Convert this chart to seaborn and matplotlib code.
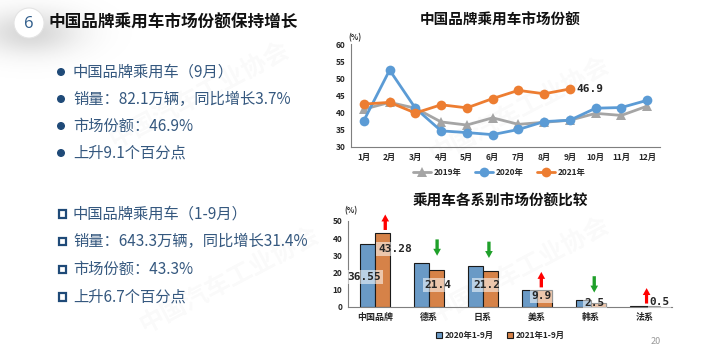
import numpy as np
import pandas as pd
import matplotlib
matplotlib.use("Agg")
import matplotlib.pyplot as plt
from matplotlib.patches import Circle, Rectangle
import seaborn as sns

# line chart data: China-brand passenger car market share (%)
months = ["1月", "2月", "3月", "4月", "5月", "6月", "7月", "8月", "9月", "10月", "11月", "12月"]
share_2019 = [41.0, 43.0, 41.3, 37.3, 36.4, 38.5, 36.6, 37.2, 37.8, 39.8, 39.2, 41.9]
share_2020 = [37.7, 52.4, 41.3, 34.7, 34.2, 33.6, 35.1, 37.4, 37.8, 41.3, 41.5, 43.6]
share_2021 = [42.5, 43.0, 39.9, 42.3, 41.4, 44.1, 46.5, 45.5, 46.9]

# bar chart data: share by origin (%)
origins = ["中国品牌", "德系", "日系", "美系", "韩系", "法系"]
jan_sep_2020 = [36.55, 25.3, 24.0, 9.6, 3.9, 0.4]
jan_sep_2021 = [43.28, 21.4, 21.2, 9.9, 2.5, 0.5]
trend_up = [True, False, False, True, False, True]

bullets_sep = ["中国品牌乘用车（9月）", "销量：82.1万辆，同比增长3.7%", "市场份额：46.9%", "上升9.1个百分点"]
bullets_ytd = ["中国品牌乘用车（1-9月）", "销量：643.3万辆，同比增长31.4%", "市场份额：43.3%", "上升6.7个百分点"]

sns.set_style("white")
plt.rcParams["font.family"] = ["Noto Sans CJK SC", "DejaVu Sans"]

BLUE = "#5B9BD5"
ORANGE = "#ED7D31"
GRAY = "#A5A5A5"
TXT = "#35587F"
NAVY = "#1F4A78"

fig = plt.figure(figsize=(7.21, 3.61), dpi=100)

# background layer in pixel coordinates
bg = fig.add_axes([0, 0, 1, 1], zorder=0)
bg.set_xlim(0, 721)
bg.set_ylim(361, 0)
bg.axis("off")

# soft shadow behind the section number
yy, xx = np.mgrid[0:80, 0:150]
alpha = 0.34 * np.exp(-(((xx - 30) / 48.0) ** 2 + ((yy - 32) / 22.0) ** 2))
shadow = np.zeros((80, 150, 4))
shadow[..., :3] = 0.55
shadow[..., 3] = alpha
bg.imshow(shadow, extent=(0, 150, 80, 0), interpolation="bilinear", aspect="auto")
bg.add_patch(Circle((29, 23), 15, facecolor="white", edgecolor="#e4e4e4", lw=0.8))
bg.text(29, 23.5, "6", ha="center", va="center", fontsize=12, color="#2E5C8A", family="Open Sans")
bg.text(49, 23, "中国品牌乘用车市场份额保持增长", ha="left", va="center",
        fontsize=12, fontweight="bold", color="#111111")

# faint watermarks
for (wx, wy) in [(200, 95), (520, 110), (230, 280), (520, 270)]:
    bg.text(wx, wy, "中国汽车工业协会", fontsize=18, color="#000000", alpha=0.025,
            rotation=28, ha="center", va="center", fontweight="bold")

# bullet block 1
for i, t in enumerate(bullets_sep):
    y = 72 + i * 27
    bg.add_patch(Circle((61, y), 3.3, color=NAVY))
    bg.text(73, y, t, ha="left", va="center", fontsize=11, color=TXT)

# bullet block 2
for i, t in enumerate(bullets_ytd):
    y = 214 + i * 27.7
    bg.add_patch(Rectangle((58.5, y - 3.8), 7.5, 7.5, facecolor="white", edgecolor=NAVY, lw=1.6))
    bg.text(73, y, t, ha="left", va="center", fontsize=11, color=TXT)

bg.text(500, 20, "中国品牌乘用车市场份额", ha="center", va="center", fontsize=10.5, fontweight="bold", color="#111111")
bg.text(500, 201, "乘用车各系别市场份额比较", ha="center", va="center", fontsize=10.5, fontweight="bold", color="#111111")
bg.text(355, 38, "(%)", ha="center", va="center", fontsize=5.5, fontweight="bold")
bg.text(351, 211, "(%)", ha="center", va="center", fontsize=5.5, fontweight="bold")
bg.text(656, 342, "20", ha="center", va="center", fontsize=6.5, color="#999999")

# ---- line chart ----
rows = []
for yr, vals in [("2019年", share_2019), ("2020年", share_2020), ("2021年", share_2021)]:
    for m, v in zip(months, vals):
        rows.append({"month": m, "year": yr, "share": v})
line_df = pd.DataFrame(rows)

ax1 = fig.add_axes([351 / 721, 1 - 147 / 361, 309 / 721, 103 / 361], zorder=2)
ax1.patch.set_alpha(0)
sns.lineplot(data=line_df, x="month", y="share", hue="year", style="year",
             palette={"2019年": GRAY, "2020年": BLUE, "2021年": ORANGE},
             markers={"2019年": "^", "2020年": "o", "2021年": "o"},
             dashes=False, markersize=7, markeredgewidth=0, linewidth=2, sort=False, ax=ax1)
ax1.set_xlim(-0.5, 11.5)
ax1.set_ylim(30, 60)
ax1.set_yticks(range(30, 61, 5))
ax1.set_xlabel("")
ax1.set_ylabel("")
ax1.tick_params(axis="both", length=0, labelsize=6, pad=4)
for lab in ax1.get_xticklabels() + ax1.get_yticklabels():
    lab.set_fontweight("bold")
sns.despine(ax=ax1)
for s in ["left", "bottom"]:
    ax1.spines[s].set_color("#7f7f7f")
    ax1.spines[s].set_linewidth(0.8)
ax1.text(8.25, share_2021[-1], f"{share_2021[-1]}", ha="left", va="center",
         fontsize=8, fontweight="bold", family="DejaVu Sans Mono")
ax1.legend(loc="center", bbox_to_anchor=(0.48, -0.245), ncol=3, frameon=False,
           prop={"size": 6, "weight": "bold"}, handlelength=2.2, columnspacing=1.6, handletextpad=0.3)

# ---- bar chart ----
bar_df = pd.DataFrame({
    "origin": origins * 2,
    "period": ["2020年1-9月"] * len(origins) + ["2021年1-9月"] * len(origins),
    "share": jan_sep_2020 + jan_sep_2021,
})
ax2 = fig.add_axes([348 / 721, 1 - 307 / 361, 324 / 721, 86 / 361], zorder=2)
ax2.patch.set_alpha(0)
sns.barplot(data=bar_df, x="origin", y="share", hue="period",
            palette={"2020年1-9月": BLUE, "2021年1-9月": ORANGE},
            width=0.56, edgecolor="#1a1a1a", linewidth=0.8, ax=ax2)
ax2.set_ylim(0, 50)
ax2.set_yticks(range(0, 51, 10))
ax2.set_xlabel("")
ax2.set_ylabel("")
ax2.tick_params(axis="both", length=0, labelsize=6, pad=4)
ax2.tick_params(axis="x", labelsize=6.5)
for lab in ax2.get_xticklabels() + ax2.get_yticklabels():
    lab.set_fontweight("bold")
sns.despine(ax=ax2)
for s in ["left", "bottom"]:
    ax2.spines[s].set_color("#7f7f7f")
    ax2.spines[s].set_linewidth(0.8)

lbl_box = dict(boxstyle="square,pad=0.15", facecolor="white", edgecolor="none", alpha=0.55)
lbl_kw = dict(ha="center", va="center", fontsize=8, fontweight="bold", family="DejaVu Sans Mono",
              bbox=lbl_box, zorder=5)
ax2.text(-0.2, 17.4, f"{jan_sep_2020[0]}", **lbl_kw)
label_pos = [(0.37, 33.7), (1.17, 12.8), (2.07, 12.8), (3.08, 6.4), (4.07, 2.4), (5.27, 3.0)]
for (lx, ly), v in zip(label_pos, jan_sep_2021):
    ax2.text(lx, ly, f"{v}", **lbl_kw)

# trend arrows above the 2021 bars
arrow_dx = [0.19, 0.15, 0.11, 0.08, 0.06, 0.03]
for i, up in enumerate(trend_up):
    bx = i + arrow_dx[i]
    top = max(jan_sep_2020[i], jan_sep_2021[i])
    if up:
        tail, tip, col = (bx, top + 1.5), (bx, top + 10.5), "#FF0000"
    else:
        tail, tip, col = (bx, top + 14), (bx, top + 4.5), "#1FA02A"
    ax2.annotate("", xy=tip, xytext=tail, annotation_clip=False,
                 arrowprops=dict(arrowstyle="simple,head_width=5.5,head_length=5,tail_width=2.4",
                                 mutation_scale=1, shrinkA=0, shrinkB=0, color=col, lw=0))

ax2.legend(loc="center", bbox_to_anchor=(0.47, -0.33), ncol=2, frameon=False,
           prop={"size": 6, "weight": "bold"}, handlelength=0.8, handleheight=0.8,
           columnspacing=1.5, handletextpad=0.3)

fig.savefig("out.png", dpi=100)
